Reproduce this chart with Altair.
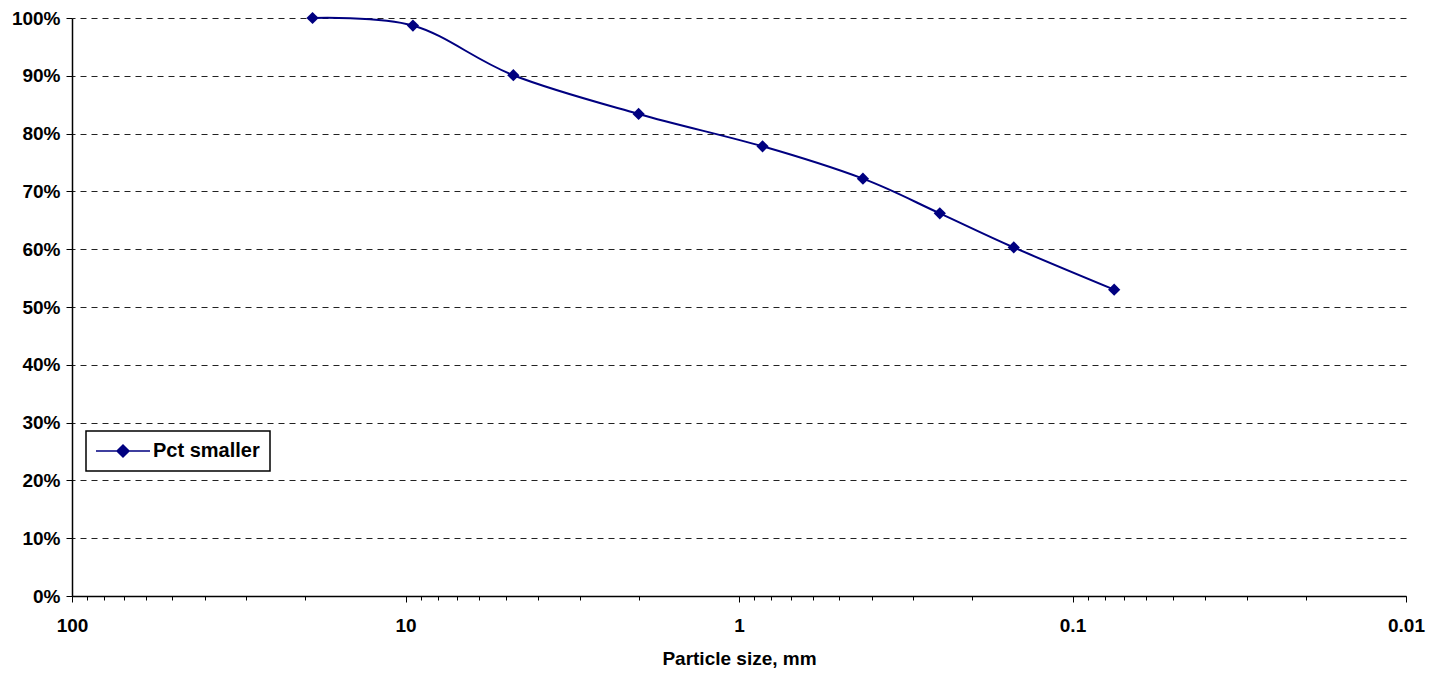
import altair as alt
import pandas as pd

# ---- data ----
sizes_mm = [19.0, 9.5, 4.75, 2.0, 0.85, 0.425, 0.25, 0.15, 0.075]
pct_smaller = [100.0, 98.7, 90.1, 83.4, 77.8, 72.2, 66.2, 60.3, 53.0]
series_name = "Pct smaller"

y_ticks = [0, 10, 20, 30, 40, 50, 60, 70, 80, 90, 100]
x_major = [100, 10, 1, 0.1, 0.01]
x_minor = [round(m * 10 ** k, 4) for k in (-2, -1, 0, 1) for m in range(2, 10)]

df = pd.DataFrame({
    "size": sizes_mm,
    "pct": pct_smaller,
    "series": [series_name] * len(sizes_mm),
})

FONT = "Liberation Sans"
NAVY = "#000080"
is_major = "indexof([100, 10, 1, 0.1, 0.01], datum.value) >= 0"

x_enc = alt.X(
    "size:Q",
    scale=alt.Scale(type="log", domain=[0.01, 100], reverse=True, nice=False),
    axis=alt.Axis(
        values=x_major + x_minor,
        title="Particle size, mm",
        grid=False,
        labelExpr=f"{is_major} ? format(datum.value, '~g') : ''",
        tickSize={"condition": {"test": is_major, "value": 6}, "value": 4},
        labelOverlap=False,
        labelFlush=False,
        labelFont=FONT,
        labelFontSize=19,
        labelFontWeight="bold",
        labelColor="black",
        labelPadding=14,
        titleFont=FONT,
        titleFontSize=19,
        titleFontWeight="bold",
        titleColor="black",
        titlePadding=14,
        domainColor="black",
        domainWidth=1.5,
        tickColor="black",
        tickWidth=1,
    ),
)

y_enc = alt.Y(
    "pct:Q",
    scale=alt.Scale(domain=[0, 100], nice=False),
    axis=alt.Axis(
        values=y_ticks,
        labelExpr="datum.value + '%'",
        title=None,
        grid=True,
        gridDash=[6, 5],
        gridColor="#222222",
        gridWidth=1,
        tickSize=6,
        tickColor="black",
        tickWidth=1,
        domainColor="black",
        domainWidth=1.5,
        labelFont=FONT,
        labelFontSize=19,
        labelFontWeight="bold",
        labelColor="black",
        labelPadding=6,
    ),
)

line = alt.Chart(df).mark_line(
    color=NAVY, strokeWidth=2, interpolate="cardinal"
).encode(x=x_enc, y=y_enc)

points = alt.Chart(df).mark_point(
    shape="diamond", filled=True, size=150, opacity=1
).encode(
    x=x_enc,
    y=y_enc,
    color=alt.Color(
        "series:N",
        scale=alt.Scale(range=[NAVY]),
        legend=alt.Legend(
            title=None,
            orient="none",
            legendX=14,
            legendY=413,
            symbolType="M-4.5,0L4.5,0M-1,0L0,-1L1,0L0,1Z",
            symbolSize=144,
            symbolFillColor=NAVY,
            symbolStrokeColor=NAVY,
            symbolStrokeWidth=1.5,
            symbolOffset=17,
            labelOffset=20,
            labelFont=FONT,
            labelFontSize=20,
            labelFontWeight="bold",
            labelColor="black",
            padding=10,
            strokeColor="black",
            cornerRadius=0,
            fillColor="white",
        ),
    ),
)

chart = alt.layer(line, points).properties(
    width=1334,
    height=578,
    autosize=alt.AutoSizeParams(type="none"),
    padding={"left": 64, "top": 10, "right": 27, "bottom": 84},
    background="white",
).configure_view(stroke=None).configure_legend(strokeWidth=1.5)

chart.save("out.html", embed_options={"renderer": "svg", "actions": False})
